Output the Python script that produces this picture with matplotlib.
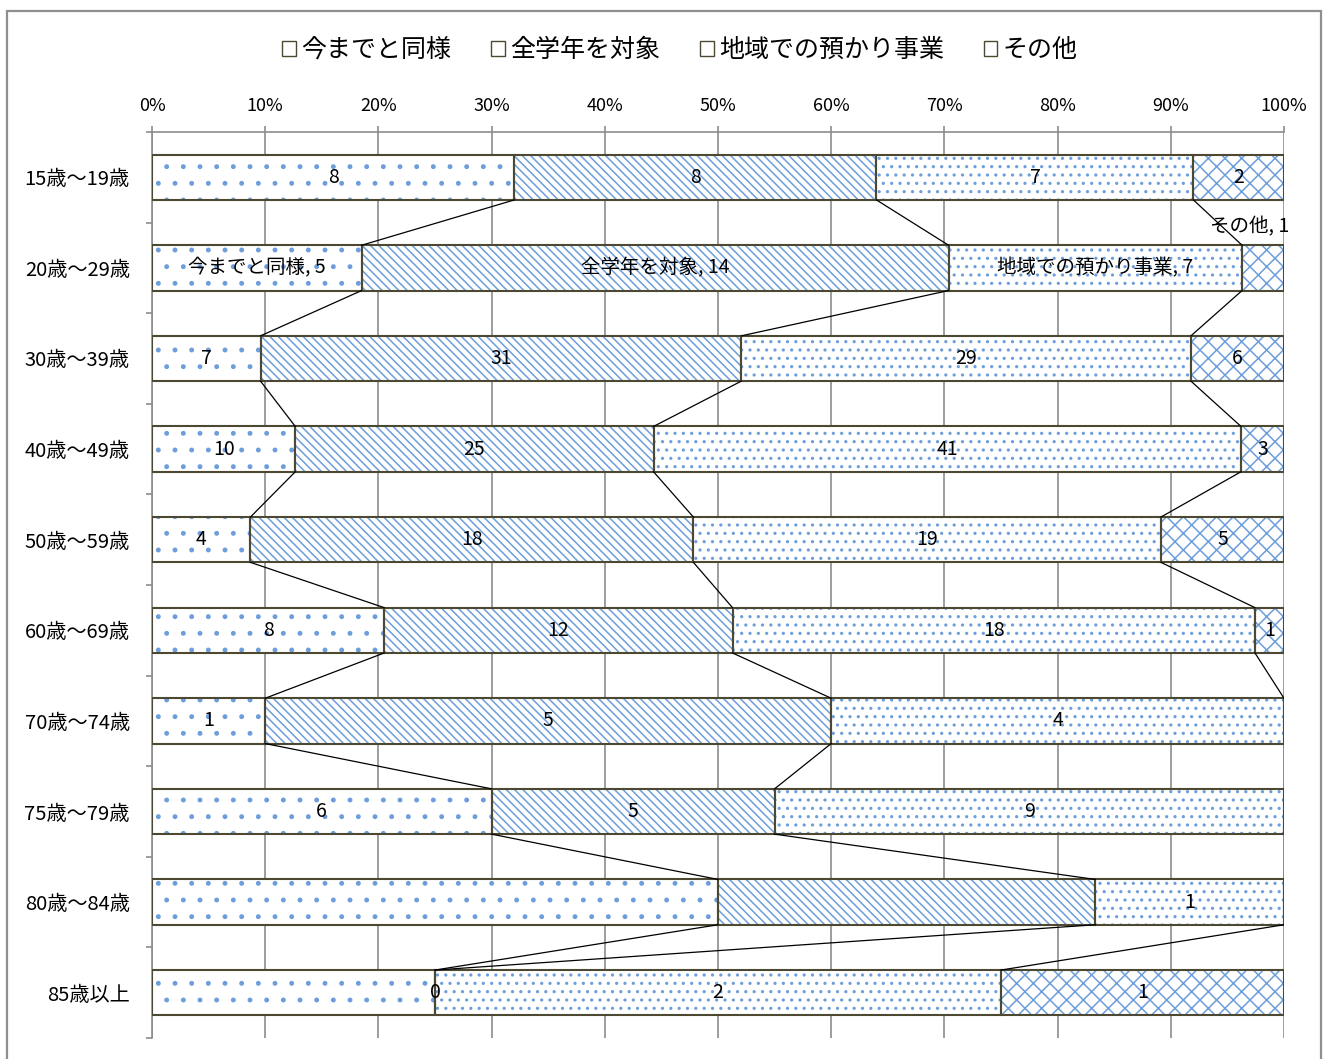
import matplotlib
matplotlib.use("Agg")
import matplotlib.pyplot as plt
from matplotlib.patches import Patch, Rectangle
import numpy as np

plt.rcParams['font.family'] = ['Noto Sans CJK JP', 'DejaVu Sans']
plt.rcParams['hatch.linewidth'] = 1.1

categories = ["15歳～19歳", "20歳～29歳", "30歳～39歳", "40歳～49歳", "50歳～59歳",
              "60歳～69歳", "70歳～74歳", "75歳～79歳", "80歳～84歳", "85歳以上"]
series = ["今までと同様", "全学年を対象", "地域での預かり事業", "その他"]
imamade = [8, 5, 7, 10, 4, 8, 1, 6, 3, 1]
zengakunen = [8, 14, 31, 25, 18, 12, 5, 5, 2, 0]
chiiki = [7, 7, 29, 41, 19, 18, 4, 9, 1, 2]
sonota = [2, 1, 6, 3, 5, 1, 0, 0, 0, 1]
xticklabels = ["0%", "10%", "20%", "30%", "40%", "50%", "60%", "70%", "80%", "90%", "100%"]

# labels that are not shown in the original (row, series)
hidden_labels = {(8, 0), (8, 1), (9, 0), (6, 3), (7, 3), (8, 3)}
named_rows = {1}

values = np.array([imamade, zengakunen, chiiki, sonota], dtype=float)
totals = values.sum(axis=0)
pct = values / totals
cum = np.cumsum(pct, axis=0)
left = cum - pct

hatches = ['.', '\\\\\\\\', '..', 'xx']
hatch_color = '#6d9edb'
edge_color = '#4d4832'
grid_color = '#8c8c8c'

W, H = 1326, 1059
fig = plt.figure(figsize=(W / 100, H / 100), dpi=100)
ax = fig.add_axes([152 / W, 1 - 1038 / H, (1284 - 152) / W, (1038 - 132) / H])

y = np.arange(len(categories))
bh = 0.5
for j in range(len(series)):
    ax.barh(y, pct[j], left=left[j], height=bh, color='white', edgecolor=hatch_color,
            hatch=hatches[j], linewidth=0, zorder=2)
    ax.barh(y, pct[j], left=left[j], height=bh, fill=False, edgecolor=edge_color,
            linewidth=1.5, zorder=3)

# series lines
for j in range(3):
    for i in range(len(categories) - 1):
        ax.plot([cum[j, i], cum[j, i + 1]], [i + bh / 2, i + 1 - bh / 2],
                color='black', linewidth=0.9, zorder=4)

# data labels
for i in range(len(categories)):
    for j in range(len(series)):
        if (i, j) in hidden_labels:
            continue
        v = int(values[j, i])
        xc = left[j, i] + pct[j, i] / 2
        if i in named_rows:
            txt = f"{series[j]}, {v}"
        else:
            txt = str(v)
        if i in named_rows and j == 3:
            ax.annotate(txt, (xc, i), xytext=(-9.5, 29.5), textcoords='offset points',
                        ha='center', va='center', fontsize=14, zorder=6)
        else:
            ax.text(xc, i, txt, ha='center', va='center', fontsize=14, zorder=6)

ax.set_xlim(0, 1)
ax.set_ylim(len(categories) - 0.5, -0.5)
ax.set_xticks(np.linspace(0, 1, 11))
ax.set_xticklabels(xticklabels, fontsize=13)
ax.xaxis.tick_top()
ax.tick_params(axis='x', which='major', direction='out', length=4, width=1.2,
               color=grid_color, pad=8)
ax.set_yticks(y)
ax.set_yticklabels(categories, fontsize=14.5)
ax.set_yticks(np.arange(-0.5, len(categories), 1.0), minor=True)
ax.tick_params(axis='y', which='major', length=0, pad=16)
ax.tick_params(axis='y', which='minor', direction='out', length=4, width=1.2, color=grid_color)
ax.grid(axis='x', color=grid_color, linewidth=1.2, zorder=0)
ax.set_axisbelow(True)
for s in ['right', 'bottom']:
    ax.spines[s].set_visible(False)
for s in ['top', 'left']:
    ax.spines[s].set_color(grid_color)
    ax.spines[s].set_linewidth(1.2)

handles = [Patch(facecolor='white', edgecolor=edge_color, linewidth=1.0) for _ in series]
fig.legend(handles, series, loc='center', bbox_to_anchor=(680 / W, 1 - 50 / H), ncol=4,
           frameon=False, fontsize=18, handlelength=0.55, handleheight=0.55,
           handletextpad=0.2, columnspacing=1.6)

fig.patches.append(Rectangle((7 / W, -0.02), (1321 - 7) / W, 1.02 - 11 / H,
                             transform=fig.transFigure, fill=False,
                             edgecolor='#8f8f8f', linewidth=1.6))

fig.savefig("out.png", dpi=100)
